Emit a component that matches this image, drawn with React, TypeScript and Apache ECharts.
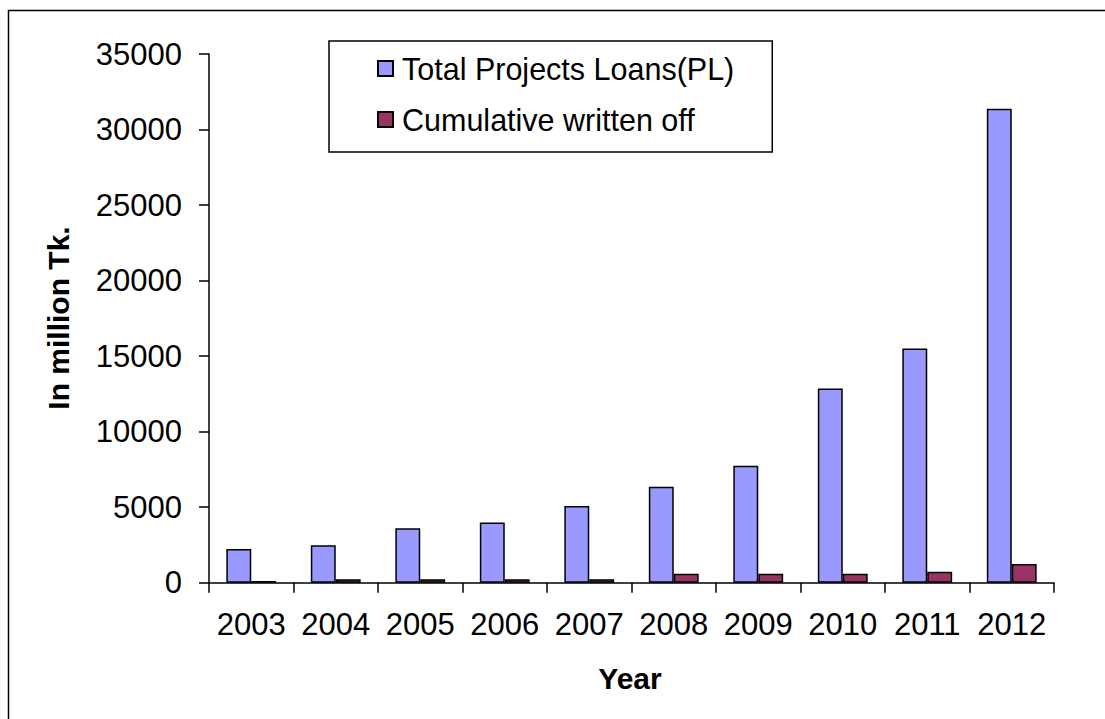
import React, { useEffect, useRef } from "react";
import * as echarts from "echarts";

const categories = ["2003", "2004", "2005", "2006", "2007", "2008", "2009", "2010", "2011", "2012"];
const totalLoans = [2230, 2480, 3600, 3980, 5080, 6350, 7750, 12860, 15510, 31370];
const writtenOff = [110, 230, 230, 230, 230, 600, 600, 600, 730, 1240];
const seriesNames = ["Total Projects Loans(PL)", "Cumulative written off"];
const yMin = 0;
const yMax = 35000;
const yInterval = 5000;

const FONT = "'Liberation Sans', Arial, sans-serif";

export default function App() {
  const ref = useRef<HTMLDivElement>(null);
  useEffect(() => {
    if (!ref.current) return;
    const chart = echarts.init(ref.current, null, { renderer: "svg" });
    chart.setOption({
      animation: false,
      backgroundColor: "#ffffff",
      textStyle: { fontFamily: FONT },
      grid: { left: 209, right: 51, top: 54, bottom: 136.3, containLabel: false },
      legend: {
        orient: "vertical",
        left: 329,
        top: 41,
        padding: [12, 38, 17, 48],
        itemGap: 20,
        itemWidth: 15,
        itemHeight: 15,
        borderColor: "#000",
        borderWidth: 1.5,
        icon: "rect",
        textStyle: { fontSize: 30.5, color: "#000", fontFamily: FONT, padding: [0, 0, 0, 4] },
        data: seriesNames,
      },
      xAxis: {
        type: "category",
        data: categories,
        axisLine: { lineStyle: { color: "#000", width: 1.5 } },
        axisTick: { show: true, length: 10, lineStyle: { color: "#000", width: 1.5 }, alignWithLabel: false },
        axisLabel: { color: "#000", fontSize: 31, margin: 26, fontFamily: FONT, interval: 0 },
        splitLine: { show: false },
      },
      yAxis: {
        type: "value",
        min: yMin,
        max: yMax,
        interval: yInterval,
        axisLine: { show: true, lineStyle: { color: "#000", width: 1.5 } },
        axisTick: { show: true, length: 10, lineStyle: { color: "#000", width: 1.5 } },
        axisLabel: {
          color: "#000",
          fontSize: 31,
          margin: 27,
          fontFamily: FONT,
          formatter: (v: number) => String(v),
        },
        splitLine: { show: false },
      },
      series: [
        {
          name: seriesNames[0],
          type: "bar",
          data: totalLoans,
          barGap: "0%",
          barCategoryGap: "41%",
          itemStyle: { color: "#9999FF", borderColor: "#000", borderWidth: 1.5 },
        },
        {
          name: seriesNames[1],
          type: "bar",
          data: writtenOff,
          barGap: "0%",
          barCategoryGap: "41%",
          itemStyle: { color: "#993366", borderColor: "#000", borderWidth: 1.5 },
        },
      ],
      graphic: [
        {
          type: "rect",
          shape: { x: 8.5, y: 10.5, width: 1120, height: 730 },
          style: { fill: "none", stroke: "#000", lineWidth: 1.5 },
          silent: true,
        },
        {
          type: "text",
          x: 58,
          y: 318,
          rotation: Math.PI / 2,
          style: {
            text: "In million Tk.",
            font: `bold 30px ${FONT}`,
            fill: "#000",
            textAlign: "center",
            textVerticalAlign: "middle",
          },
        },
        {
          type: "text",
          x: 630,
          y: 678,
          style: {
            text: "Year",
            font: `bold 30px ${FONT}`,
            fill: "#000",
            textAlign: "center",
            textVerticalAlign: "middle",
          },
        },
      ],
    });
    return () => chart.dispose();
  }, []);
  return (
    <div
      ref={ref}
      style={{ position: "absolute", left: 0, top: 0, width: 1105, height: 719 }}
    />
  );
}
